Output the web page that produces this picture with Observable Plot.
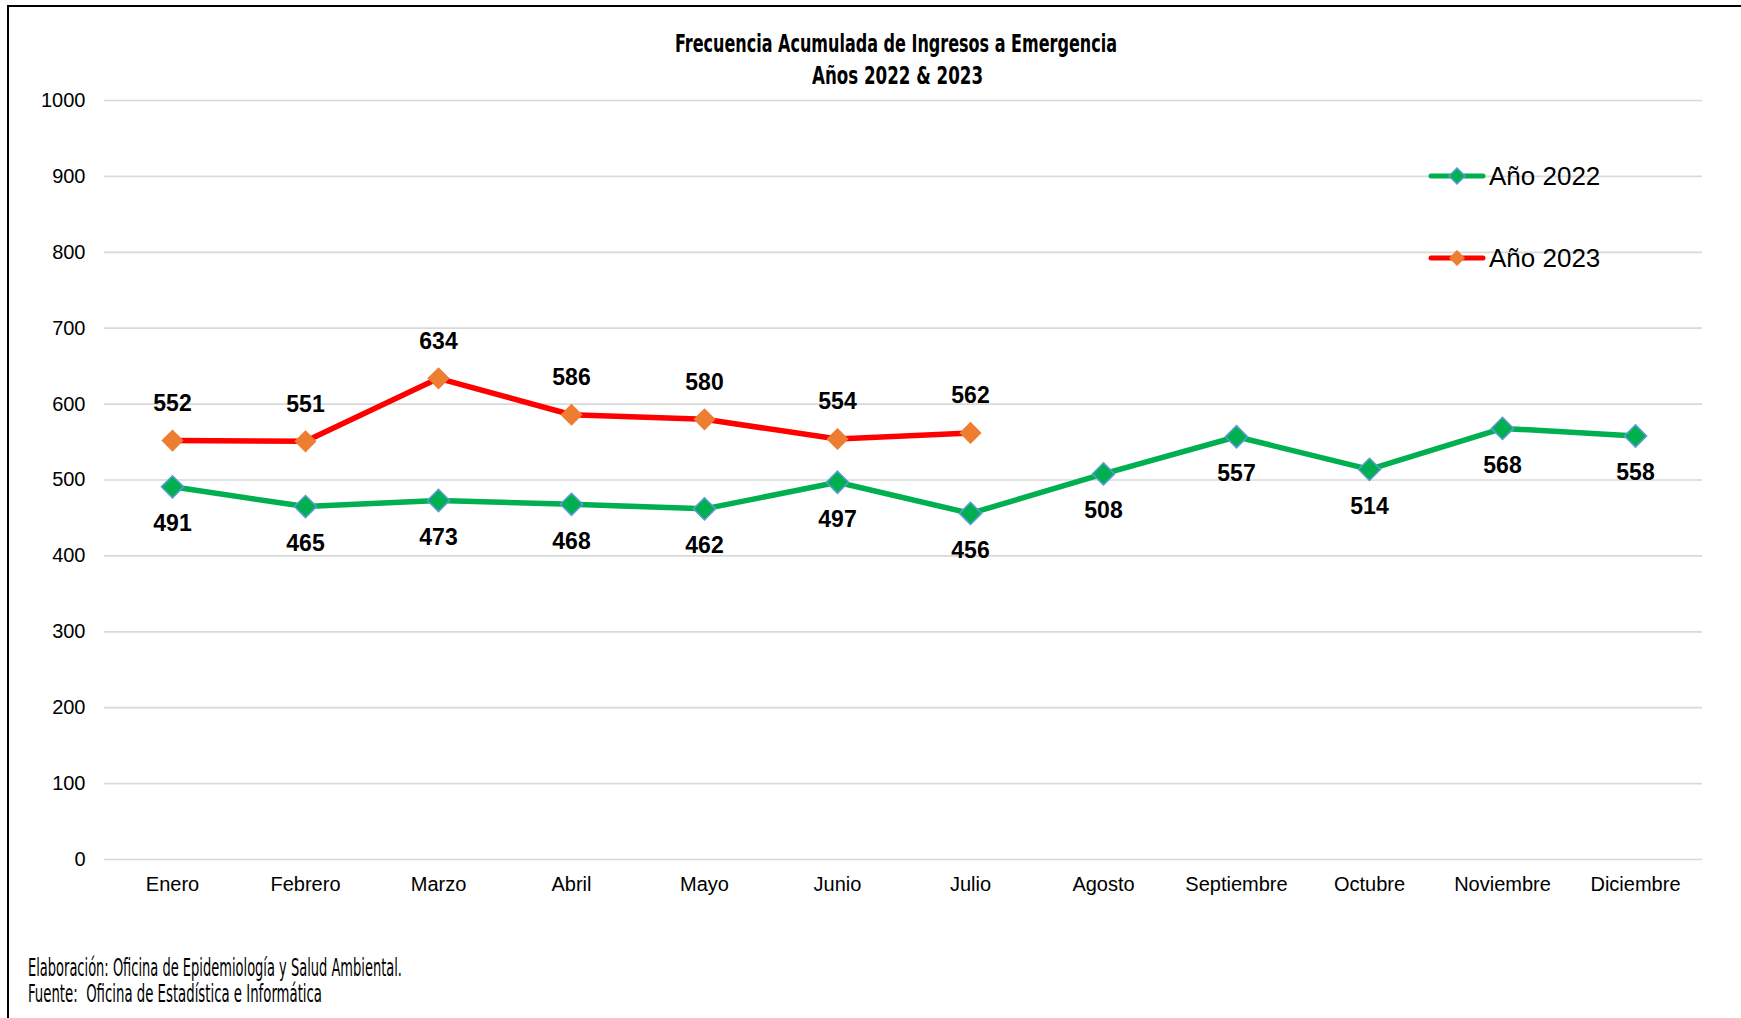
<!DOCTYPE html>
<html>
<head>
<meta charset="utf-8">
<script src="https://cdn.jsdelivr.net/npm/d3@7"></script>
<script src="https://cdn.jsdelivr.net/npm/@observablehq/plot@0.6"></script>
<style>
  html, body { margin: 0; padding: 0; background: #fff; }
  #wrap { position: relative; width: 1741px; height: 1018px; overflow: hidden; background: #fff; }
  #frame { position: absolute; left: 7px; top: 5px; width: 1760px; height: 1040px; border-top: 2px solid #000; border-left: 2px solid #000; }
  .fit { position: absolute; white-space: nowrap; transform-origin: 0 0; color: #000; }
  .title { font-family: "Liberation Sans Narrow", "DejaVu Sans Condensed", sans-serif; font-weight: bold; font-size: 24px; line-height: 24px; }
  .foot { font-family: "Liberation Sans Narrow", "DejaVu Sans Condensed", sans-serif; font-size: 24px; line-height: 24px; }
  #chart { position: absolute; left: 0; top: 80px; }
  .leg { position: absolute; font-family: "Liberation Sans", Arial, sans-serif; font-size: 26px; line-height: 26px; color: #000; white-space: nowrap; }
  .legsym { position: absolute; }
</style>
</head>
<body>
<div id="wrap">
  <div id="frame"></div>
  <div id="chart"></div>
  <div class="fit title" data-w="442" style="left:675px; top:32px;">Frecuencia Acumulada de Ingresos a Emergencia</div>
  <div class="fit title" data-w="171" style="left:812px; top:64px;">Años 2022 &amp; 2023</div>
  <div class="fit foot" data-w="374" style="left:28px; top:956px;">Elaboración: Oficina de Epidemiología y Salud Ambiental.</div>
  <div class="fit foot" data-w="294" style="left:28px; top:982px;">Fuente:&nbsp; Oficina de Estadística e Informática</div>
  <svg class="legsym" width="60" height="24" style="left:1427px; top:164px;">
    <line x1="4" y1="12" x2="56" y2="12" stroke="#00B050" stroke-width="5" stroke-linecap="round"/>
    <path d="M30,4 L38,12 L30,20 L22,12 Z" fill="#00B050" stroke="#5B9BD5" stroke-width="1.5"/>
  </svg>
  <div class="leg" style="left:1489px; top:163px;">Año 2022</div>
  <svg class="legsym" width="60" height="24" style="left:1427px; top:246px;">
    <line x1="4" y1="12" x2="56" y2="12" stroke="#FF0000" stroke-width="5" stroke-linecap="round"/>
    <path d="M30,4 L38,12 L30,20 L22,12 Z" fill="#ED7D31"/>
  </svg>
  <div class="leg" style="left:1489px; top:245px;">Año 2023</div>
</div>
<script>
const months = ["Enero","Febrero","Marzo","Abril","Mayo","Junio","Julio","Agosto","Septiembre","Octubre","Noviembre","Diciembre"];
const values2022 = [491,465,473,468,462,497,456,508,557,514,568,558];
const values2023 = [552,551,634,586,580,554,562];
const yTicks = [0,100,200,300,400,500,600,700,800,900,1000];

const d2022 = values2022.map((v, i) => ({month: months[i], value: v}));
const d2023 = values2023.map((v, i) => ({month: months[i], value: v}));

const chart = Plot.plot({
  width: 1741,
  height: 820,
  marginTop: 20,
  marginBottom: 41,
  marginLeft: 104,
  marginRight: 39,
  style: {fontFamily: "'Liberation Sans', Arial, sans-serif", fontSize: "20px", color: "#000", background: "transparent"},
  x: {type: "point", domain: months, padding: 0.5, label: null},
  y: {domain: [0, 1000], label: null},
  marks: [
    Plot.gridY(yTicks, {stroke: "#d9d9d9", strokeOpacity: 1, strokeWidth: 1.7}),
    Plot.axisY({ticks: yTicks, tickFormat: d => String(d), tickSize: 0, tickPadding: 19, label: null, fontSize: 20}),
    Plot.axisX({tickSize: 0, tickPadding: 17, label: null, fontSize: 20}),
    Plot.line(d2022, {x: "month", y: "value", stroke: "#00B050", strokeWidth: 5.5}),
    Plot.line(d2023, {x: "month", y: "value", stroke: "#FF0000", strokeWidth: 5.5}),
    Plot.dot(d2022, {x: "month", y: "value", symbol: "diamond2", r: 10, fill: "#00B050", stroke: "#5B9BD5", strokeWidth: 1.5}),
    Plot.dot(d2023, {x: "month", y: "value", symbol: "diamond2", r: 10, fill: "#ED7D31", stroke: "none"}),
    Plot.text(d2022, {x: "month", y: "value", text: d => String(d.value), dy: 37, fontWeight: "bold", fontSize: 23, fill: "#000"}),
    Plot.text(d2023, {x: "month", y: "value", text: d => String(d.value), dy: -37, fontWeight: "bold", fontSize: 23, fill: "#000"})
  ]
});
document.getElementById("chart").appendChild(chart);

function fitTexts() {
  document.querySelectorAll(".fit").forEach(el => {
    el.style.transform = "none";
    const w = el.getBoundingClientRect().width;
    const target = +el.dataset.w;
    if (w > 0) el.style.transform = `scaleX(${target / w})`;
  });
}
fitTexts();
if (document.fonts && document.fonts.ready) document.fonts.ready.then(fitTexts);
</script>
</body>
</html>
